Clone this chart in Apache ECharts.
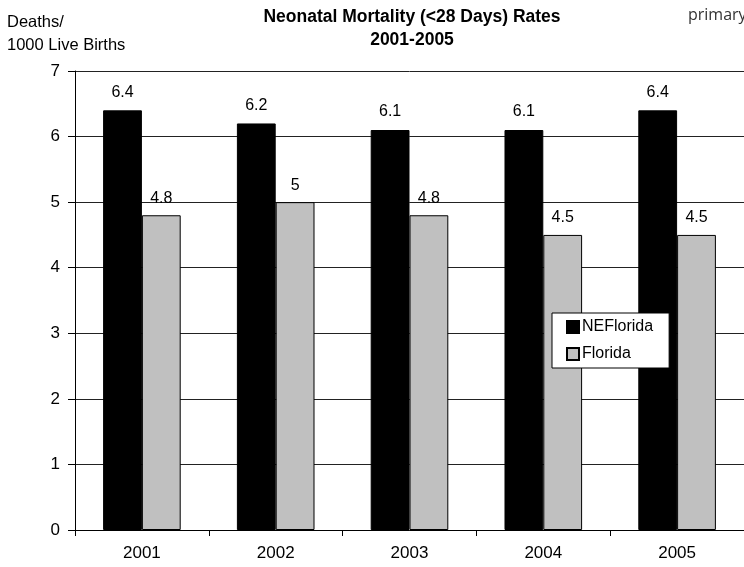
<!DOCTYPE html>
<html><head><meta charset="utf-8">
<script src="https://cdn.jsdelivr.net/npm/echarts@6/dist/echarts.min.js"></script>
<style>html,body{margin:0;padding:0;background:#fff}#c{width:744px;height:567px}</style>
</head><body><div id="c"></div>
<script>
const categories = ['2001', '2002', '2003', '2004', '2005'];
const neFlorida = [6.4, 6.2, 6.1, 6.1, 6.4];
const florida = [4.8, 5, 4.8, 4.5, 4.5];
const yTicks = [0, 1, 2, 3, 4, 5, 6, 7];

const font = '"Liberation Sans", Arial, sans-serif';
const chart = echarts.init(document.getElementById('c'), null, {renderer: 'canvas'});
chart.setOption({
  animation: false,
  backgroundColor: '#fff',
  textStyle: {fontFamily: font},
  graphic: [
    {type: 'text', x: 412, y: 17, style: {text: 'Neonatal Mortality (<28 Days) Rates', font: 'bold 17.5px ' + font, fill: '#000', align: 'center', verticalAlign: 'middle'}},
    {type: 'text', x: 412, y: 40, style: {text: '2001-2005', font: 'bold 17.5px ' + font, fill: '#000', align: 'center', verticalAlign: 'middle'}},
    {type: 'text', x: 7, y: 22, style: {text: 'Deaths/', font: '16.5px ' + font, fill: '#000', verticalAlign: 'middle'}},
    {type: 'text', x: 7, y: 45, style: {text: '1000 Live Births', font: '16.5px ' + font, fill: '#000', verticalAlign: 'middle'}},
    {type: 'text', x: 688, y: 15, style: {text: 'primary', font: '16px "Open Sans", sans-serif', fill: '#333', verticalAlign: 'middle'}}
  ],
  legend: {
    orient: 'vertical', left: 552, top: 313,
    padding: [6, 16, 6, 14],
    itemWidth: 12, itemHeight: 12, itemGap: 11,
    backgroundColor: '#fff', borderColor: '#000', borderWidth: 1,
    textStyle: {fontFamily: font, fontSize: 16, color: '#000', padding: [0, 0, 0, -2]},
    data: [{name: 'NEFlorida', icon: 'rect'}, {name: 'Florida', icon: 'rect'}]
  },
  grid: {left: 75, right: -6, top: 71, bottom: 37, containLabel: false},
  xAxis: {
    type: 'category', data: categories,
    axisLine: {lineStyle: {color: '#000', width: 1}},
    axisTick: {show: true, length: 6, lineStyle: {color: '#000'}},
    axisLabel: {fontFamily: font, fontSize: 17, color: '#000', margin: 15}
  },
  yAxis: {
    type: 'value', min: yTicks[0], max: yTicks[yTicks.length - 1], interval: 1,
    axisLine: {show: true, lineStyle: {color: '#000', width: 1}},
    axisTick: {show: true, length: 7, lineStyle: {color: '#000'}},
    axisLabel: {fontFamily: font, fontSize: 17, color: '#000', margin: 15},
    splitLine: {show: true, lineStyle: {color: '#222', width: 1}}
  },
  series: [
    {name: 'NEFlorida', type: 'bar', data: neFlorida, barGap: '0%', barCategoryGap: '42%',
     itemStyle: {color: '#000', borderColor: '#000', borderWidth: 1},
     label: {show: true, position: 'top', distance: 10, fontFamily: font, fontSize: 16, color: '#000'}},
    {name: 'Florida', type: 'bar', data: florida, barGap: '0%', barCategoryGap: '42%',
     itemStyle: {color: '#c0c0c0', borderColor: '#000', borderWidth: 1},
     label: {show: true, position: 'top', distance: 9, fontFamily: font, fontSize: 16, color: '#000'}}
  ]
});
</script></body></html>
